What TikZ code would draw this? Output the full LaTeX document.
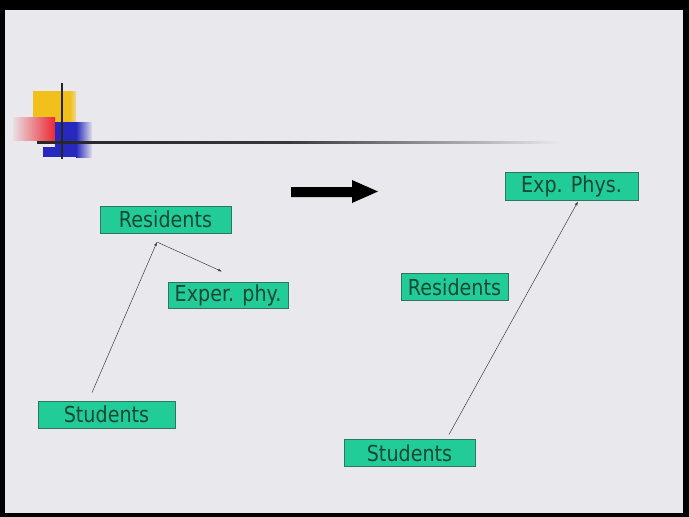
\documentclass[tikz,border=0pt]{standalone}
\usepackage{fontspec}
\setmainfont[FakeStretch=0.87]{DejaVu Sans}
\usetikzlibrary{arrows.meta, positioning, calc}
\definecolor{slidebg}{RGB}{233,232,236}
\definecolor{boxfill}{RGB}{34,204,153}
\definecolor{boxline}{RGB}{47,118,92}
\definecolor{boxtext}{RGB}{22,72,52}
\definecolor{markyellow}{RGB}{242,192,28}
\definecolor{markred}{RGB}{236,40,50}
\definecolor{markblue}{RGB}{40,40,190}
\pgfdeclarehorizontalshading{linefade}{100bp}{color(0bp)=(black!85); color(25bp)=(black!85); color(49bp)=(black!78); color(75bp)=(slidebg); color(100bp)=(slidebg)}
\tikzstyle{labelbox} = [rectangle, minimum height=27pt, inner sep=1pt, text centered, draw=boxline, line width=0.9pt, fill=boxfill, text=boxtext, font=\fontsize{22}{24}\selectfont]
\tikzstyle{thinarrow} = [line width=0.5pt, black!75, -{Latex[length=4pt, width=3pt]}]

\begin{document}
\begin{tikzpicture}[x=1pt, y=-1pt]

% Slide
\fill[black] (0,0) rectangle (689,517);
\fill[slidebg] (5,10) rectangle (683,513);

% Corner mark
\fill[markyellow] (33,91) rectangle (70,122);
\shade[left color=markyellow, right color=markyellow!40!slidebg] (70,91) rectangle (76,122);
\shade[left color=markred!5!slidebg, right color=markred] (13,117) rectangle (55,140);
\fill[markblue] (55,122) rectangle (76,157);
\fill[markblue] (43,147) rectangle (55,157);
\shade[left color=markblue, right color=markblue!5!slidebg] (76,122) rectangle (92,157);
\shade[shading=linefade] (37,141) rectangle (560,143);
\fill[black!85] (61.3,83) rectangle (62.8,159);

% Big arrow
\fill[black] (291,187) -- (352,187) -- (352,180) -- (378,191.5) -- (352,203) -- (352,197) -- (291,197) -- cycle;

% Nodes
\node (resL) [labelbox, minimum width=131pt] at (165.5,219.5) {Residents};
\node (experL) [labelbox, minimum width=120pt, minimum height=26pt] at (228,295) {Exper. phy.};
\node (studL) [labelbox, minimum width=137pt] at (106.5,414.5) {Students};
\node (expR) [labelbox, minimum width=133pt, minimum height=28pt] at (571.5,186) {Exp. Phys.};
\node (resR) [labelbox, minimum width=107pt] at (454.5,287) {Residents};
\node (studR) [labelbox, minimum width=131pt] at (409.5,453) {Students};
\coordinate (bend) at (157,242);

% Arrows
\draw [thinarrow] ([xshift=-14.5pt, yshift=8pt]studL.north) -- (bend);
\draw [thinarrow] (bend) -- ([xshift=-6pt, yshift=10pt]experL.north);
\draw [thinarrow] ([xshift=39.5pt, yshift=4.5pt]studR.north) -- ([xshift=6.5pt, yshift=-1pt]expR.south);

\end{tikzpicture}
\end{document}
